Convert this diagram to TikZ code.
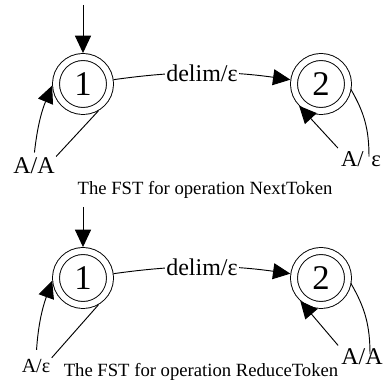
\documentclass[tikz,border=0pt]{standalone}
\usepackage{fontspec}
\setmainfont{Liberation Serif}
\usepackage{tikz}
\usetikzlibrary{arrows.meta}

\tikzset{
  fststate/.style={circle, draw, double, double distance=4.5pt, minimum size=40.5pt,
    inner sep=0pt, outer sep=2.95pt, font=\fontsize{26}{26}\selectfont},
  fsttip/.style={-{Triangle[length=13pt,width=12pt]}},
  fstlab/.style={inner sep=0.75pt, font=\fontsize{18}{18}\selectfont},
  fstcap/.style={inner sep=0.75pt, anchor=base, font=\fontsize{14}{14}\selectfont}
}

\begin{document}
\begin{tikzpicture}[x=0.75pt,y=0.75pt,yscale=-1,xscale=1,line width=0.7pt]

\useasboundingbox (0,0) rectangle (383,381);

%% NextToken transducer

\node [fststate] (n1) at (83,84) {1};

\node [fststate] (n2) at (321,84) {2};

\coordinate (n0) at (83,5);

\draw [fsttip] (n0) -- (n1);

\draw [fsttip] (n1) to [out=-20,in=-160] node [fstlab,fill=white] {delim/ε} (n2);

\node [fstlab] (na1) at (34,166) {A/A};

\draw (n1.-60) -- (na1.north east);

\draw [fsttip,shorten <=3pt] (na1.north) to [bend right=8] (n1.183);

\node [fstlab,font=\fontsize{17}{17}\selectfont] (na2) at (361,159) {A/\,\,ε};

\draw ([yshift=-2pt]n2.-15) to [bend right=15] ([xshift=6pt,yshift=5pt]na2.north);

\draw [fsttip,shorten <=2pt] (na2.north west) -- (n2.-135);

\node [fstcap] (nc) at (205,195) {The FST for operation NextToken};

%% ReduceToken transducer

\node [fststate] (r1) at (83,278) {1};

\node [fststate] (r2) at (321,278) {2};

\coordinate (r0) at (83,207);

\draw [fsttip] (r0) -- (r1);

\draw [fsttip] (r1) to [out=-20,in=-160] node [fstlab,fill=white] {delim/ε} (r2);

\node [fstlab,font=\fontsize{15}{15}\selectfont] (ra1) at (36,366) {A/ε};

\draw (r1.-60) -- (ra1.north east);

\draw [fsttip,shorten <=6pt] (ra1.north) to [bend right=8] (r1.185);

\node [fstlab] (ra2) at (362,357) {A/A};

\draw ([yshift=-2pt]r2.-15) to [bend right=15] ([xshift=6pt,yshift=5pt]ra2.north);

\draw [fsttip,shorten <=2pt] (ra2.north west) -- (r2.-132);

\node [fstcap] (rc) at (201,377) {The FST for operation ReduceToken};

\end{tikzpicture}
\end{document}
